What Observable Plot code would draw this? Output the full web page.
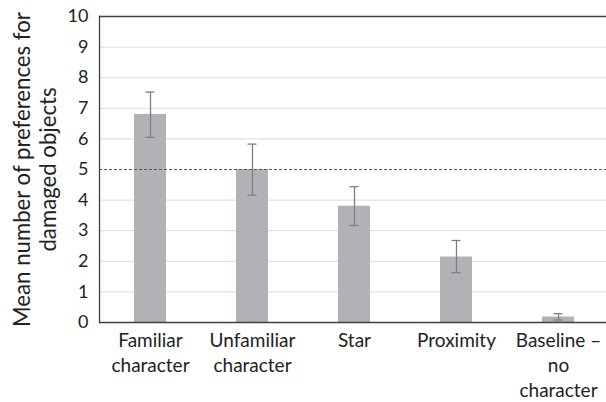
<!DOCTYPE html>
<html>
<head>
<meta charset="utf-8">
<script src="https://cdn.jsdelivr.net/npm/d3@7"></script>
<script src="https://cdn.jsdelivr.net/npm/@observablehq/plot@0.6"></script>
<style>
  html, body { margin: 0; padding: 0; background: #fff; }
  #chart svg { display: block; }
</style>
</head>
<body>
<div id="chart"></div>
<script>
const categories = ["Familiar\ncharacter", "Unfamiliar\ncharacter", "Star", "Proximity", "Baseline –\nno\ncharacter"];
const means = [6.80, 5.00, 3.80, 2.14, 0.18];
const errHigh = [7.53, 5.83, 4.44, 2.68, 0.29];
const errLow = [6.05, 4.16, 3.17, 1.63, 0.08];
const yTicks = [0, 1, 2, 3, 4, 5, 6, 7, 8, 9, 10];
const gridValues = [1, 2, 3, 4, 6, 7, 8, 9];
const chanceLevel = 5;
const yLabel = "Mean number of preferences for\ndamaged objects";

const data = categories.map((c, i) => ({cat: c, mean: means[i], hi: errHigh[i], lo: errLow[i]}));

const font = "Lato, 'Open Sans', sans-serif";

const chart = Plot.plot({
  width: 606,
  height: 402,
  marginLeft: 99,
  marginRight: 0,
  marginTop: 16,
  marginBottom: 80,
  style: {fontFamily: font, background: "#fff"},
  x: {domain: categories, range: [99, 609], paddingInner: 0.69, paddingOuter: 0.345, label: null},
  y: {domain: [0, 10], label: null},
  marks: [
    Plot.ruleY(gridValues, {stroke: "#d9d9d9", strokeWidth: 1}),
    Plot.barY(data, {x: "cat", y: "mean", fill: "#b1b2b5"}),
    Plot.ruleY([chanceLevel], {stroke: "#595959", strokeWidth: 1, strokeDasharray: "3,2"}),
    Plot.ruleX(data, {x: "cat", y1: "lo", y2: "hi", stroke: "#808080", strokeWidth: 1.3}),
    Plot.tickY(data, {x: "cat", y: "hi", stroke: "#808080", strokeWidth: 1.3, insetLeft: 11.5, insetRight: 11.5}),
    Plot.tickY(data, {x: "cat", y: "lo", stroke: "#808080", strokeWidth: 1.3, insetLeft: 11.5, insetRight: 11.5}),
    Plot.ruleY([0, 10], {stroke: "#404040", strokeWidth: 1.3}),
    Plot.frame({anchor: "left", stroke: "#404040", strokeWidth: 1.3}),
    Plot.axisY({ticks: yTicks, tickSize: 0, tickPadding: 11, fontSize: 18, fill: "#222"}),
    Plot.axisX({tickSize: 0, tickPadding: 7, fontSize: 19, lineHeight: 1.32, fill: "#222", lineAnchor: "top"}),
    Plot.text([yLabel], {frameAnchor: "left", textAnchor: "middle", rotate: -90, dx: -65, fontSize: 22.2, lineHeight: 1.2, fill: "#222", text: d => d})
  ]
});
document.getElementById("chart").appendChild(chart);
</script>
</body>
</html>
